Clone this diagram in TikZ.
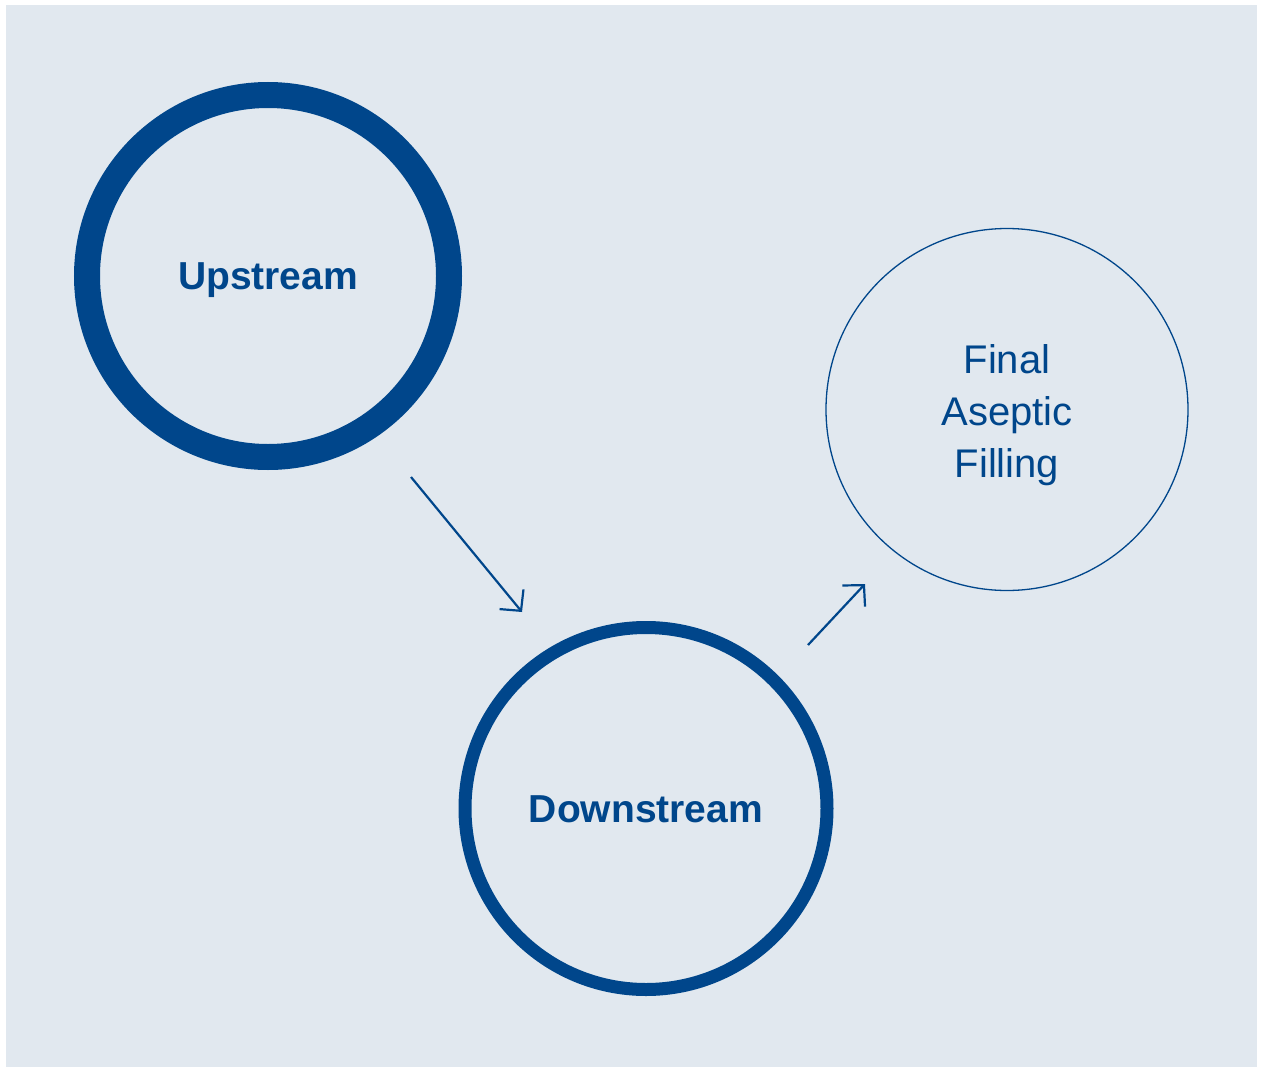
\documentclass[tikz,border=0pt]{standalone}
\usepackage{fontspec}
\setmainfont{Liberation Sans}
\usetikzlibrary{arrows.meta}
\definecolor{bgblue}{HTML}{E1E8EF}
\definecolor{darkblue}{HTML}{00468B}
\begin{document}
\begin{tikzpicture}[x=1pt,y=-1pt,
  stage/.style={circle,draw=darkblue,text=darkblue,inner sep=0pt,minimum size=362pt,align=center},
  flow/.style={draw=darkblue,line width=2.2pt,-{Straight Barb[length=15pt,width=31pt,line width=2.2pt]}}]
\useasboundingbox (0,0) rectangle (1267,1068);
\fill[bgblue] (6,5) rectangle (1257,1067);
\node[stage,line width=26pt,font=\fontsize{39}{47}\selectfont\bfseries] (up) at (268,276) {\raisebox{-4pt}[\height][\depth]{Upstream}};
\node[stage,line width=13pt,font=\fontsize{39}{47}\selectfont\bfseries] (down) at (646,808.5) {\raisebox{-1pt}[\height][\depth]{Downstream}};
\node[stage,line width=1.3pt,font=\fontsize{40}{52}\selectfont] (fill) at (1007,409.5) {\raisebox{-6pt}[\height][\depth]{\begin{tabular}{@{}c@{}}Final\\Aseptic\\Filling\end{tabular}}};
\coordinate (a1s) at (411,477);
\coordinate (a1e) at (522,612);
\coordinate (a2s) at (808,645);
\coordinate (a2e) at (865,584);
\draw[flow] (a1s) -- (a1e);
\draw[flow] (a2s) -- (a2e);
\end{tikzpicture}
\end{document}
